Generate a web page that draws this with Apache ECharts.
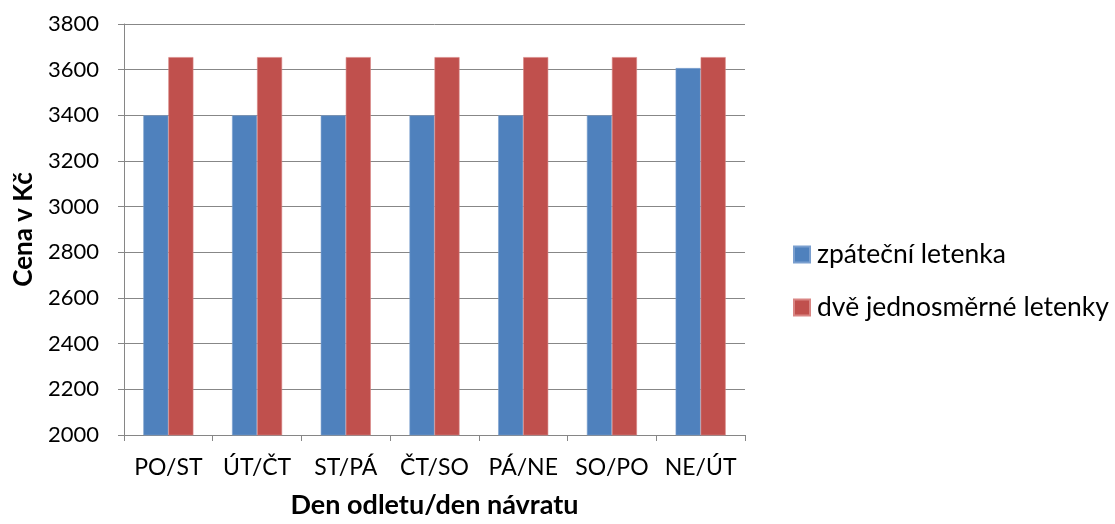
<!DOCTYPE html>
<html>
<head>
<meta charset="utf-8">
<script src="https://cdn.jsdelivr.net/npm/echarts@6/dist/echarts.min.js"></script>
<style>html,body{margin:0;padding:0;background:#fff}#c{width:1115px;height:524px}</style>
</head>
<body>
<div id="c"></div>
<script>
const categories = ['PO/ST', 'ÚT/ČT', 'ST/PÁ', 'ČT/SO', 'PÁ/NE', 'SO/PO', 'NE/ÚT'];
const roundTrip = [3400, 3400, 3400, 3400, 3400, 3400, 3607];
const twoOneWay = [3655, 3655, 3655, 3655, 3655, 3655, 3655];
const seriesNames = ['zpáteční letenka', 'dvě jednosměrné letenky'];
const yTicks = { min: 2000, max: 3800, interval: 200 };

const font = 'Lato, "Open Sans", sans-serif';
const chart = echarts.init(document.getElementById('c'), null, { renderer: 'canvas' });
chart.setOption({
  animation: false,
  backgroundColor: '#fff',
  textStyle: { fontFamily: font },
  grid: { left: 124, right: 370, top: 24, bottom: 88, containLabel: false },
  legend: {
    orient: 'vertical', left: 788, top: 236, itemWidth: 16, itemHeight: 16, itemGap: 26,
    icon: 'rect',
    textStyle: { fontSize: 26.5, color: '#000', fontFamily: font, padding: [0, 0, 0, 2] },
    data: seriesNames
  },
  xAxis: {
    type: 'category', data: categories,
    name: 'Den odletu/den návratu', nameLocation: 'middle', nameGap: 57,
    nameTextStyle: { fontSize: 27, fontWeight: 'bold', color: '#000', fontFamily: font },
    axisLine: { lineStyle: { color: '#868686', width: 1 } },
    axisTick: { show: true, length: 6, lineStyle: { color: '#868686' } },
    axisLabel: { fontSize: 23, color: '#000', margin: 21, fontFamily: font, interval: 0, hideOverlap: false },
    splitLine: { show: false }
  },
  yAxis: {
    type: 'value', min: yTicks.min, max: yTicks.max, interval: yTicks.interval,
    name: 'Cena v Kč', nameLocation: 'middle', nameGap: 85,
    nameTextStyle: { fontSize: 26, fontWeight: 'bold', color: '#000', fontFamily: font },
    axisLine: { show: true, lineStyle: { color: '#868686', width: 1 } },
    axisTick: { show: true, length: 6, lineStyle: { color: '#868686' } },
    axisLabel: { fontSize: 22, color: '#000', margin: 25, fontFamily: font, formatter: v => String(v) },
    splitLine: { show: true, lineStyle: { color: '#878787', width: 1 } }
  },
  series: [
    { name: seriesNames[0], type: 'bar', data: roundTrip, barGap: '0%', barCategoryGap: '43.6%',
      itemStyle: { color: '#4F81BD', borderColor: '#7A9FCF', borderWidth: 0.6 } },
    { name: seriesNames[1], type: 'bar', data: twoOneWay, barGap: '0%', barCategoryGap: '43.6%',
      itemStyle: { color: '#C0504D', borderColor: '#D98583', borderWidth: 0.6 } }
  ]
});
</script>
</body>
</html>
